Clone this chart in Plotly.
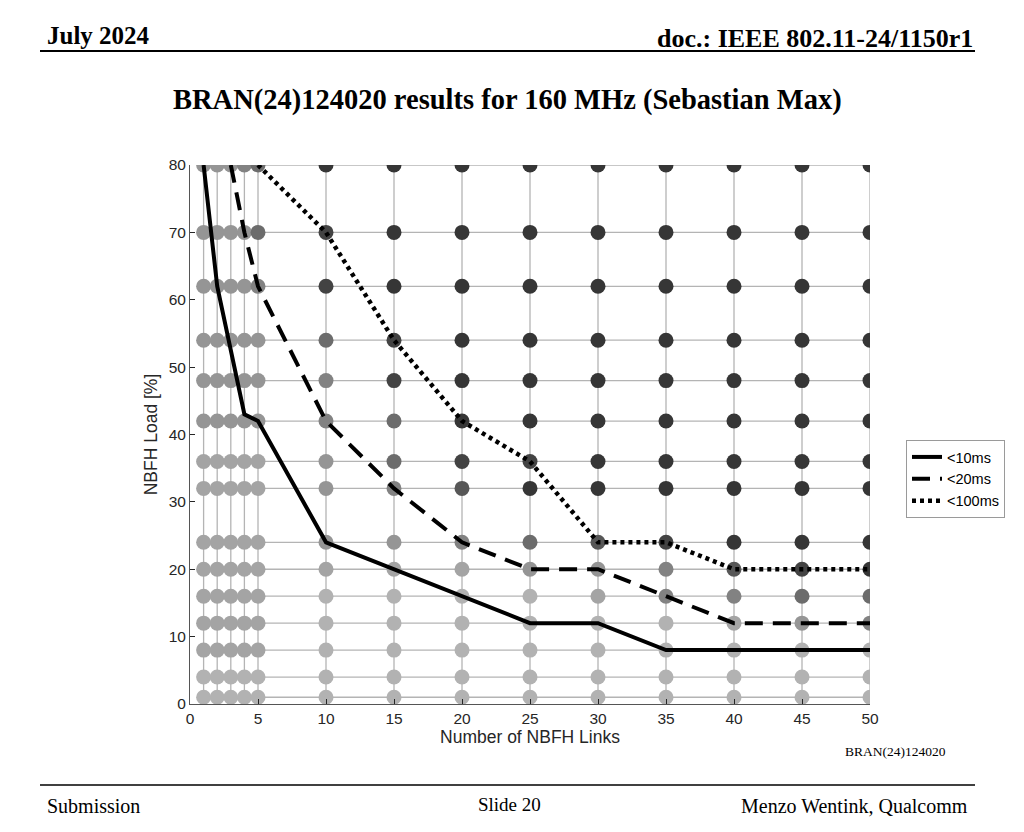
import plotly.graph_objects as go

# ---------------- data ----------------
links = [1, 2, 3, 4, 5, 10, 15, 20, 25, 30, 35, 40, 45, 50]
loads = [1, 4, 8, 12, 16, 20, 24, 32, 36, 42, 48, 54, 62, 70, 80]

# gray level of every dot, one string per load row (bottom -> top), one char per link column
shade_rows = [
    "aaaaaaaaaaaaaa",  # 1
    "aaaaaaaaaaaaaa",  # 4
    "bbbbbaaaaaaaaa",  # 8
    "bbbbbaaaaaabcd",  # 12
    "bbbbbaaaabddee",  # 16
    "bbbbbbbbccdfgh",  # 20
    "bbbbbccdefghhh",  # 24
    "bbbbbcdfhhhhhh",  # 32
    "bbbbbcegghhhhh",  # 36
    "cccccdehhhhhhh",  # 42
    "cccccdghhhhhhh",  # 48
    "ccccceghhhhhhh",  # 54
    "ccccdghhhhhhhh",  # 62
    "cccceghhhhhhhh",  # 70
    "cccdehhhhhhhhh",  # 80
]
shade_colors = {
    "a": "#b2b2b2", "b": "#a4a4a4", "c": "#959595", "d": "#828282",
    "e": "#6c6c6c", "f": "#575757", "g": "#434343", "h": "#363636",
}

lat10_x = [1, 2, 4, 5, 10, 15, 20, 25, 30, 35, 40, 45, 50]
lat10_y = [80, 62, 43, 42, 24, 20, 16, 12, 12, 8, 8, 8, 8]

lat20_x = [3, 4, 5, 10, 15, 20, 25, 30, 35, 40, 45, 50]
lat20_y = [80, 70, 62, 42, 32, 24, 20, 20, 16, 12, 12, 12]

lat100_x = [5, 10, 15, 20, 25, 30, 35, 40, 45, 50]
lat100_y = [80, 70, 54, 42, 36, 24, 24, 20, 20, 20]

series_names = ["<10ms", "<20ms", "<100ms"]

x_ticks = [0, 5, 10, 15, 20, 25, 30, 35, 40, 45, 50]
y_ticks = [0, 10, 20, 30, 40, 50, 60, 70, 80]

# ---------------- layout geometry (target pixels) ----------------
W, H = 1024, 832
OFF = 8  # page body margin
PL, PR, PT, PB = 190, 870, 165, 704   # plot area in screenshot pixels
pw, ph = PR - PL, PB - PT

def to_paper(xpx, ypx):
    return (xpx - PL) / pw, (PB - ypx) / ph

# ---------------- figure ----------------
fig = go.Figure()

gx, gy = [], []
for yv in loads:
    gx += [links[0], links[-1], None]
    gy += [yv, yv, None]
for xv in links:
    gx += [xv, xv, None]
    gy += [loads[0], loads[-1], None]
fig.add_trace(go.Scatter(x=gx, y=gy, mode="lines", line=dict(color="#b4b4b4", width=1.3),
                         showlegend=False, hoverinfo="skip"))

px, py, pc = [], [], []
for yi, yv in enumerate(loads):
    for xi, xv in enumerate(links):
        px.append(xv)
        py.append(yv)
        pc.append(shade_colors[shade_rows[yi][xi]])
fig.add_trace(go.Scatter(x=px, y=py, mode="markers",
                         marker=dict(size=15, color=pc, line=dict(width=0)),
                         showlegend=False))

fig.add_trace(go.Scatter(x=lat10_x, y=lat10_y, mode="lines", name=series_names[0],
                         line=dict(color="black", width=4, dash="solid")))
fig.add_trace(go.Scatter(x=lat20_x, y=lat20_y, mode="lines", name=series_names[1],
                         line=dict(color="black", width=4, dash="18px,10px")))
fig.add_trace(go.Scatter(x=lat100_x, y=lat100_y, mode="lines", name=series_names[2],
                         line=dict(color="black", width=4.5, dash="4px,4px")))

sans = "Liberation Sans, Arial, sans-serif"
axis_font = dict(family=sans, size=15.5, color="#262626")
title_font = dict(family=sans, size=17.5, color="#262626")

fig.update_xaxes(range=[0, 50], tickvals=x_ticks, ticks="inside", ticklen=5, tickcolor="#262626",
                 showgrid=False, zeroline=False, showline=True, linecolor="#555555", linewidth=1,
                 tickfont=axis_font,
                 title=dict(text="Number of NBFH Links", font=title_font, standoff=2))
fig.update_yaxes(range=[0, 80], tickvals=y_ticks, ticks="inside", ticklen=5, tickcolor="#262626",
                 showgrid=False, zeroline=False, showline=True, linecolor="#555555", linewidth=1,
                 tickfont=axis_font,
                 title=dict(text="NBFH Load [%]", font=title_font, standoff=6))

serif = "Liberation Serif, Times New Roman, serif"
texts = [
    ("<b>July 2024</b>", 45, 35, "left", 25),
    ("<b>doc.: IEEE 802.11-24/1150r1</b>", 975, 38, "right", 26),
    ("<b>BRAN(24)124020 results for 160 MHz (Sebastian Max)</b>", 507, 100, "center", 28.5),
    ("BRAN(24)124020", 948, 751, "right", 13.5),
    ("Submission", 45, 806, "left", 20),
    ("Slide 20", 509, 804, "center", 19),
    ("Menzo Wentink, Qualcomm", 970, 806, "right", 20),
]
annotations = []
for txt, xpx, ypx, anc, sz in texts:
    xp, yp = to_paper(xpx, ypx)
    annotations.append(dict(text=txt, x=xp, y=yp, xref="paper", yref="paper",
                            xanchor=anc, yanchor="middle", showarrow=False,
                            font=dict(family=serif, size=sz, color="black")))

shapes = []
for ypx, lw in [(51, 2), (785, 1.5)]:
    x0, y0 = to_paper(40, ypx)
    x1, _ = to_paper(975, ypx)
    shapes.append(dict(type="line", xref="paper", yref="paper", x0=x0, x1=x1, y0=y0, y1=y0,
                       line=dict(color="black", width=lw)))

lx, ly = to_paper(906, 440)
fig.update_layout(
    width=W, height=H,
    margin=dict(l=PL - OFF, r=W - PR + OFF, t=PT - OFF, b=H - PB + OFF, autoexpand=False),
    paper_bgcolor="white", plot_bgcolor="white",
    showlegend=True,
    legend=dict(x=lx, y=ly, xanchor="left", yanchor="top",
                bordercolor="#9a9a9a", borderwidth=1, bgcolor="white",
                font=dict(family=sans, size=14.5, color="black"),
                itemwidth=30, tracegroupgap=0),
    annotations=annotations,
    shapes=shapes,
)

fig.write_html("out.html")
